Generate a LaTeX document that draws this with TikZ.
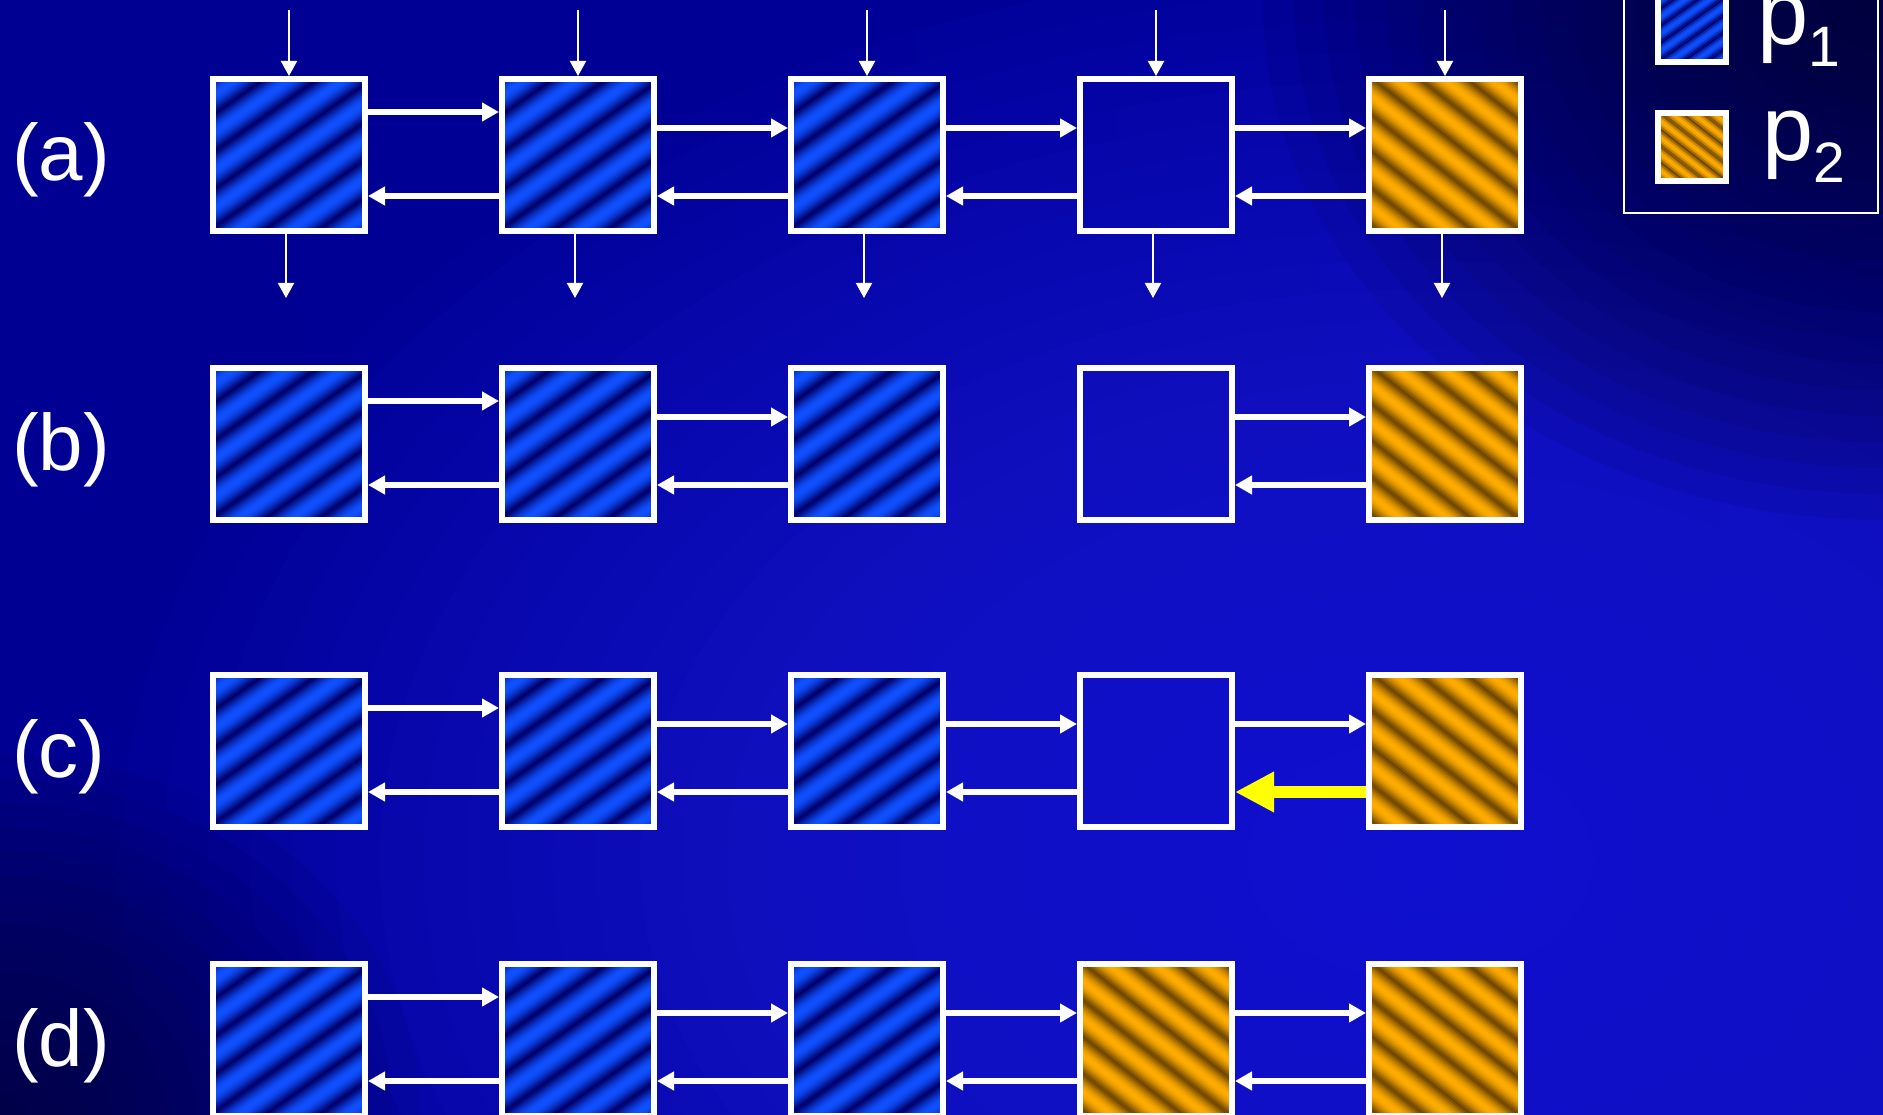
\documentclass[tikz,border=0pt]{standalone}
\usepackage{fontspec}
\setmainfont{Liberation Sans}
\usetikzlibrary{arrows.meta}
\definecolor{bgA}{RGB}{0,0,62}
\definecolor{bgB}{RGB}{0,0,110}
\definecolor{bgC}{RGB}{0,0,145}
\definecolor{bgD}{RGB}{0,0,160}
\definecolor{blobc}{RGB}{34,34,232}
\definecolor{vigc}{RGB}{0,0,45}
\definecolor{blueDk}{RGB}{0,0,105}
\definecolor{blueBr}{RGB}{15,80,255}
\definecolor{orDk}{RGB}{110,70,0}
\definecolor{orBr}{RGB}{255,172,0}
\definecolor{hiY}{RGB}{255,255,0}
\pgfdeclarehorizontalshading{bgh}{100bp}{color(0bp)=(bgA); color(8bp)=(bgB); color(20bp)=(bgC); color(100bp)=(bgD)}
% soft blob made of stacked translucent ellipses
\newcommand\softblob[7]{% cx, cy, rx, ry, steps, opacity, colour
  \foreach \bi in {1,...,#5}{%
    \pgfmathsetmacro\bx{#3/#5*\bi}
    \pgfmathsetmacro\by{#4/#5*\bi}
    \fill[#7, fill opacity=#6] (#1,#2) ellipse [x radius=\bx pt, y radius=\by pt];
  }}
\newcommand\stripesq[7]{%
  \begin{scope}
    \clip (#1-#3,#2-#3) rectangle (#1+#3,#2+#3);
    \begin{scope}[shift={(#1,#2)},rotate=#4]
      \pgfmathsetmacro\sqE{1.45*#3}
      \pgfmathsetmacro\sqF{360/#5}
      \pgfmathtruncatemacro\sqN{\sqE}
      \foreach \k in {0,...,\sqN}{%
        \pgfmathsetmacro\sqU{-\sqE+2*\k}
        \pgfmathsetmacro\sqC{max(0,min(1,0.5+0.5*cos(\sqF*\sqU)))}
        \pgfmathsetmacro\sqM{100*(\sqC^0.6)}
        \fill[#7!\sqM!#6] (\sqU,-\sqE) rectangle (\sqU+2.7,\sqE);
      }
    \end{scope}
  \end{scope}}
\tikzset{
  pbox/.style={draw=white, line width=6pt, minimum size=152pt, inner sep=0pt},
  lbox/.style={draw=white, line width=6pt, minimum size=68pt, inner sep=0pt},
  link/.style={white, line width=6pt, -{Triangle[length=17pt,width=18pt]}},
  feed/.style={white, line width=2pt, -{Triangle[length=15pt,width=16pt]}},
  hl/.style={hiY, line width=12.5pt, -{Triangle[length=39pt,width=38pt]}},
  lab/.style={text=white, font=\fontsize{80}{96}\selectfont, anchor=base west, inner sep=0pt},
  lgt/.style={text=white, font=\fontsize{92}{92}\selectfont, anchor=base west, inner sep=0pt}
}
\begin{document}
\begin{tikzpicture}[x=1pt,y=-1pt]
\useasboundingbox (0,0) rectangle (1883,1115);
% background
\begin{scope}
  \clip (0,0) rectangle (1883,1115);
  \shade[shading=bgh] (0,0) rectangle (1883,1115);
  \softblob{1420}{860}{1300}{900}{30}{0.05}{blobc}
  \softblob{1883}{0}{620}{520}{20}{0.08}{vigc}
  \softblob{0}{1115}{420}{360}{15}{0.07}{vigc}
\end{scope}
% stripe fills
\foreach \y in {155,444,751,1040}{
  \foreach \x in {289,578,867}{\stripesq{\x}{\y}{74}{-55}{31}{blueDk}{blueBr}}
  \stripesq{1445}{\y}{74}{52}{29}{orDk}{orBr}
}
\stripesq{1156}{1040}{74}{52}{29}{orDk}{orBr}
\stripesq{1692}{28}{32}{-55}{14}{blueDk}{blueBr}
\stripesq{1692}{147}{32}{52}{13}{orDk}{orBr}
% boxes
\foreach \r/\y in {a/155,b/444,c/751,d/1040}{
  \foreach \c/\x in {1/289,2/578,3/867,4/1156,5/1445}{
    \node[pbox] (\r\c) at (\x,\y) {};
  }
}
% labels
\node[lab] (la) at (12,181) {(a)};
\node[lab] (lb) at (12,470) {(b)};
\node[lab] (lc) at (12,777) {(c)};
\node[lab] (ld) at (12,1066) {(d)};
% links common to all rows
\foreach \r in {a,b,c,d}{
  \draw[link] ([yshift=43pt]\r1.east) -- ([yshift=43pt]\r2.west);
  \draw[link] ([yshift=-41pt]\r2.west) -- ([yshift=-41pt]\r1.east);
  \draw[link] ([yshift=27pt]\r2.east) -- ([yshift=27pt]\r3.west);
  \draw[link] ([yshift=-41pt]\r3.west) -- ([yshift=-41pt]\r2.east);
}
\foreach \r in {a,d}{
  \draw[link] ([yshift=27pt]\r3.east) -- ([yshift=27pt]\r4.west);
  \draw[link] ([yshift=-41pt]\r4.west) -- ([yshift=-41pt]\r3.east);
  \draw[link] ([yshift=27pt]\r4.east) -- ([yshift=27pt]\r5.west);
  \draw[link] ([yshift=-41pt]\r5.west) -- ([yshift=-41pt]\r4.east);
}
\draw[link] ([yshift=27pt]b4.east) -- ([yshift=27pt]b5.west);
\draw[link] ([yshift=-41pt]b5.west) -- ([yshift=-41pt]b4.east);
\draw[link] ([yshift=27pt]c3.east) -- ([yshift=27pt]c4.west);
\draw[link] ([yshift=-41pt]c4.west) -- ([yshift=-41pt]c3.east);
\draw[link] ([yshift=27pt]c4.east) -- ([yshift=27pt]c5.west);
\draw[hl] ([yshift=-41pt]c5.west) -- ([yshift=-41pt]c4.east);
% feed arrows row a
\foreach \c in {1,...,5}{
  \coordinate (t\c) at ([yshift=66pt]a\c.north);
  \draw[feed] (t\c) -- (a\c.north);
  \coordinate (o\c) at ([xshift=-3pt,yshift=-64pt]a\c.south);
  \draw[feed] ([xshift=-3pt]a\c.south) -- (o\c);
}
% legend
\node[draw=white, line width=2pt, minimum width=254pt, minimum height=223pt, inner sep=0pt] (legend) at (1751,101.5) {};
\node[lbox] (lp1) at (1692,28) {};
\node[lbox] (lp2) at (1692,147) {};
\node[lgt] (lt1) at (1757,45) {p\raisebox{-22pt}{\fontsize{57}{57}\selectfont 1}};
\node[lgt] (lt2) at (1762,161) {p\raisebox{-22pt}{\fontsize{57}{57}\selectfont 2}};
\end{tikzpicture}
\end{document}
